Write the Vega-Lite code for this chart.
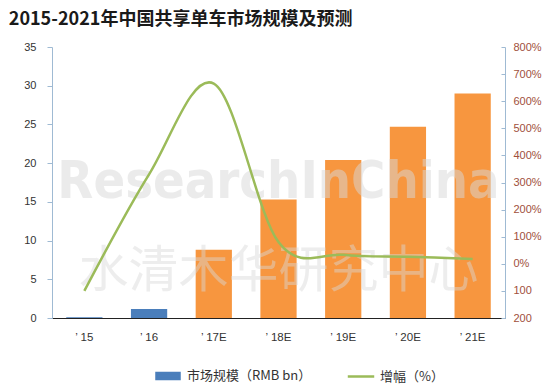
{
  "$schema": "https://vega.github.io/schema/vega-lite/v6.json",
  "width": 453,
  "height": 271,
  "autosize": {"type": "none"},
  "padding": {"left": 52, "top": 47, "right": 43, "bottom": 66},
  "background": "white",
  "title": {
    "text": "2015-2021年中国共享单车市场规模及预测",
    "anchor": "start",
    "dx": -15,
    "offset": 12,
    "fontSize": 18,
    "fontWeight": "bold",
    "font": "Noto Sans CJK SC",
    "color": "#1a1a1a"
  },
  "config": {"view": {"stroke": null}, "font": "Liberation Sans"},
  "data": {
    "values": [
      {"year": "’ 15", "size": 0.1, "growth": -100, "series": "市场规模（RMB bn）"},
      {"year": "’ 16", "size": 1.15, "growth": 330, "series": "市场规模（RMB bn）"},
      {"year": "’ 17E", "size": 8.8, "growth": 665, "series": "预测"},
      {"year": "’ 18E", "size": 15.3, "growth": 80, "series": "预测"},
      {"year": "’ 19E", "size": 20.4, "growth": 33, "series": "预测"},
      {"year": "’ 20E", "size": 24.7, "growth": 26, "series": "预测"},
      {"year": "’ 21E", "size": 29.0, "growth": 18, "series": "预测"}
    ]
  },
  "encoding": {
    "x": {
      "field": "year",
      "type": "nominal",
      "sort": null,
      "scale": {"paddingInner": 0.44, "paddingOuter": 0.22},
      "axis": {
        "title": null,
        "labelAngle": 0,
        "ticks": false,
        "domainColor": "#222222",
        "domainWidth": 1.2,
        "labelPadding": 13,
        "labelFontSize": 11.5,
        "labelColor": "#333333"
      }
    }
  },
  "layer": [
    {
      "mark": {"type": "bar"},
      "encoding": {
        "y": {
          "field": "size",
          "type": "quantitative",
          "scale": {"domain": [0, 35], "nice": false},
          "axis": {
            "title": null,
            "grid": false,
            "values": [0, 5, 10, 15, 20, 25, 30, 35],
            "domainColor": "#9fbad3",
            "tickColor": "#9fbad3",
            "tickSize": 5,
            "labelPadding": 11,
            "labelFontSize": 11,
            "labelColor": "#333333"
          }
        },
        "color": {
          "field": "series",
          "type": "nominal",
          "scale": {
            "domain": ["市场规模（RMB bn）", "预测", "增幅（%）"],
            "range": ["#4a7ebb", "#f7963f", "#9bbb59"]
          },
          "legend": {
            "title": null,
            "orient": "none",
            "direction": "horizontal",
            "legendX": 103,
            "legendY": 316,
            "values": ["市场规模（RMB bn）", "增幅（%）"],
            "labelFontSize": 13,
            "labelColor": "#333333",
            "labelFont": "Noto Sans CJK SC",
            "symbolSize": 529,
            "labelOffset": 6,
            "columnPadding": 30,
            "encode": {
              "symbols": {
                "update": {
                  "shape": {"signal": "datum.value === '增幅（%）' ? 'M-1.15,0H1.15' : 'M-1,-0.26H1V0.26H-1Z'"},
                  "fill": {"signal": "datum.value === '增幅（%）' ? 'transparent' : '#4a7ebb'"},
                  "stroke": {"signal": "datum.value === '增幅（%）' ? '#9bbb59' : 'transparent'"},
                  "strokeWidth": {"value": 2.5},
                  "opacity": {"value": 1}
                }
              }
            }
          }
        }
      }
    },
    {
      "data": {"values": [{"text": "ResearchInChina"}]},
      "mark": {
        "type": "text",
        "font": "DejaVu Sans Condensed, DejaVu Sans, sans-serif",
        "fontWeight": "bold",
        "fontSize": 52,
        "color": "#d9d9d9",
        "opacity": 0.5,
        "align": "center",
        "baseline": "middle"
      },
      "encoding": {
        "x": {"datum": "’ 18E"},
        "y": {"datum": 17.6, "type": "quantitative", "scale": {"domain": [0, 35], "nice": false}, "axis": null},
        "text": {"field": "text"}
      }
    },
    {
      "data": {"values": [{"text": "水清木华研究中心"}]},
      "mark": {
        "type": "text",
        "font": "Noto Sans CJK SC",
        "fontSize": 50,
        "color": "#d9d9d9",
        "opacity": 0.45,
        "align": "center",
        "baseline": "middle"
      },
      "encoding": {
        "x": {"datum": "’ 18E"},
        "y": {"datum": 5.9, "type": "quantitative", "scale": {"domain": [0, 35], "nice": false}, "axis": null},
        "text": {"field": "text"}
      }
    },
    {
      "mark": {"type": "line", "interpolate": "cardinal", "strokeWidth": 2.5},
      "encoding": {
        "y": {
          "field": "growth",
          "type": "quantitative",
          "scale": {"domain": [-200, 800], "nice": false},
          "axis": {
            "orient": "right",
            "title": null,
            "grid": false,
            "values": [-200, -100, 0, 100, 200, 300, 400, 500, 600, 700, 800],
            "labelExpr": "datum.value < 0 ? format(-datum.value, 'd') : datum.value + '%'",
            "domainColor": "#9fbad3",
            "tickColor": "#9fbad3",
            "tickSize": -4,
            "labelPadding": 12,
            "labelFontSize": 11,
            "labelColor": "#a0503c"
          }
        },
        "color": {"datum": "增幅（%）"}
      }
    }
  ],
  "resolve": {"scale": {"y": "independent"}}
}
